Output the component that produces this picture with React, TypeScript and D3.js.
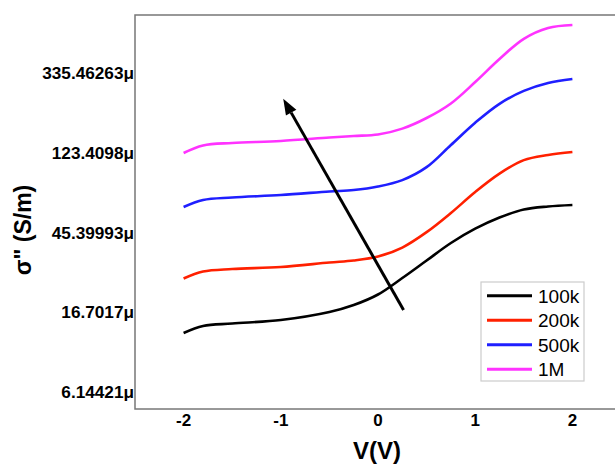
import { useEffect, useRef } from 'react'
import * as d3 from 'd3'

// bias voltage (V)
const voltages = [-2, -1.8, -1.5, -1, -0.5, -0.25, 0, 0.25, 0.5, 0.75, 1, 1.25, 1.5, 1.75, 2]

// sigma'' values in µS/m
const s100k = [12.88, 14.06, 14.5, 15.16, 16.75, 18.29, 20.87, 25.66, 31.96, 39.8, 47.62, 54.8, 60.58, 62.9, 64.09]
const s200k = [25.5, 27.84, 28.73, 29.46, 31.17, 31.96, 33.6, 37.6, 45.6, 57.98, 75.45, 95.0, 112.5, 120.0, 124.6]
const s500k = [62.5, 68.24, 70.42, 72.66, 75.92, 77.36, 80.83, 87.6, 103.0, 136.0, 179.9, 228.0, 268.0, 295.9, 311.1]
const s1M = [123.0, 135.2, 139.5, 143.0, 149.4, 152.3, 155.1, 167.0, 190.8, 229.0, 299.6, 399.8, 515.0, 589.9, 612.4]

const seriesNames = ['100k', '200k', '500k', '1M']
const seriesValues = [s100k, s200k, s500k, s1M]
const seriesColors = ['#000000', '#ff2000', '#1f1fff', '#ff33ff']

const xTicks = [-2, -1, 0, 1, 2]
const yTicks = [6.14421, 16.7017, 45.39993, 123.4098, 335.46263]
const yTickLabels = ['6.14421μ', '16.7017μ', '45.39993μ', '123.4098μ', '335.46263μ']

// arrow from low to high frequency: [V, µS/m]
const arrowFrom = [0.263, 17.18]
const arrowTo = [-0.975, 243]

export default function App() {
  const svgRef = useRef(null)

  useEffect(() => {
    const width = 615
    const height = 466
    const margin = { top: 15, right: -6, bottom: 57, left: 135 }

    const svg = d3.select(svgRef.current)
    svg.selectAll('*').remove()
    svg.attr('width', width).attr('height', height)

    const x = d3.scaleLinear()
      .domain([-2.5, 2.5])
      .range([margin.left, width - margin.right])

    const y = d3.scaleLog()
      .base(Math.E)
      .domain([4.965, 694.3])
      .range([height - margin.bottom, margin.top])

    const font = 'Arial, "Liberation Sans", sans-serif'

    // frame
    svg.append('rect')
      .attr('x', margin.left)
      .attr('y', margin.top)
      .attr('width', width - margin.right - margin.left)
      .attr('height', height - margin.bottom - margin.top)
      .attr('fill', 'none')
      .attr('stroke', '#777')
      .attr('stroke-width', 1.5)

    // x tick labels
    svg.append('g')
      .selectAll('text')
      .data(xTicks)
      .join('text')
      .attr('x', d => x(d))
      .attr('y', 426)
      .attr('text-anchor', 'middle')
      .attr('font-family', font)
      .attr('font-weight', 'bold')
      .attr('font-size', 17)
      .text(d => d)

    // y tick labels
    svg.append('g')
      .selectAll('text')
      .data(yTicks)
      .join('text')
      .attr('x', 134)
      .attr('y', d => y(d))
      .attr('dy', '0.36em')
      .attr('text-anchor', 'end')
      .attr('font-family', font)
      .attr('font-weight', 'bold')
      .attr('font-size', 17.2)
      .text((d, i) => yTickLabels[i])

    // axis titles
    svg.append('text')
      .attr('x', 377)
      .attr('y', 459)
      .attr('text-anchor', 'middle')
      .attr('font-family', font)
      .attr('font-weight', 'bold')
      .attr('font-size', 24)
      .text('V(V)')

    svg.append('text')
      .attr('transform', 'translate(31,230) rotate(-90)')
      .attr('text-anchor', 'middle')
      .attr('font-family', font)
      .attr('font-weight', 'bold')
      .attr('font-size', 23)
      .text('σ" (S/m)')

    // curves
    const line = d3.line<number>()
      .x((d, i) => x(voltages[i]))
      .y(d => y(d))
      .curve(d3.curveCatmullRom.alpha(0.5))

    svg.append('g')
      .selectAll('path')
      .data(seriesValues)
      .join('path')
      .attr('d', d => line(d))
      .attr('fill', 'none')
      .attr('stroke', (d, i) => seriesColors[i])
      .attr('stroke-width', 2.6)

    // arrow
    const x0 = x(arrowFrom[0]), y0 = y(arrowFrom[1])
    const x1 = x(arrowTo[0]), y1 = y(arrowTo[1])
    const ang = Math.atan2(y1 - y0, x1 - x0)
    const headLen = 16
    const headW = 6
    const bx = x1 - headLen * Math.cos(ang)
    const by = y1 - headLen * Math.sin(ang)
    svg.append('line')
      .attr('x1', x0).attr('y1', y0)
      .attr('x2', bx).attr('y2', by)
      .attr('stroke', '#000')
      .attr('stroke-width', 3)
    svg.append('path')
      .attr('d', `M${x1},${y1}L${bx + headW * Math.sin(ang)},${by - headW * Math.cos(ang)}L${bx - headW * Math.sin(ang)},${by + headW * Math.cos(ang)}Z`)
      .attr('fill', '#000')

    // legend
    const lg = svg.append('g').attr('transform', 'translate(481,282)')
    lg.append('rect')
      .attr('width', 103)
      .attr('height', 99)
      .attr('fill', '#fff')
      .attr('stroke', '#ccc')
      .attr('stroke-width', 1.2)
    const item = lg.selectAll('g')
      .data(seriesNames)
      .join('g')
      .attr('transform', (d, i) => `translate(0,${13.7 + i * 24.5})`)
    item.append('line')
      .attr('x1', 6).attr('x2', 51)
      .attr('stroke', (d, i) => seriesColors[i])
      .attr('stroke-width', 3)
    item.append('text')
      .attr('x', 57)
      .attr('dy', '0.36em')
      .attr('font-family', font)
      .attr('font-size', 19)
      .attr('fill', '#000')
      .text(d => d)
  }, [])

  return <svg ref={svgRef} style={{ position: 'absolute', left: 0, top: 0 }}></svg>
}
